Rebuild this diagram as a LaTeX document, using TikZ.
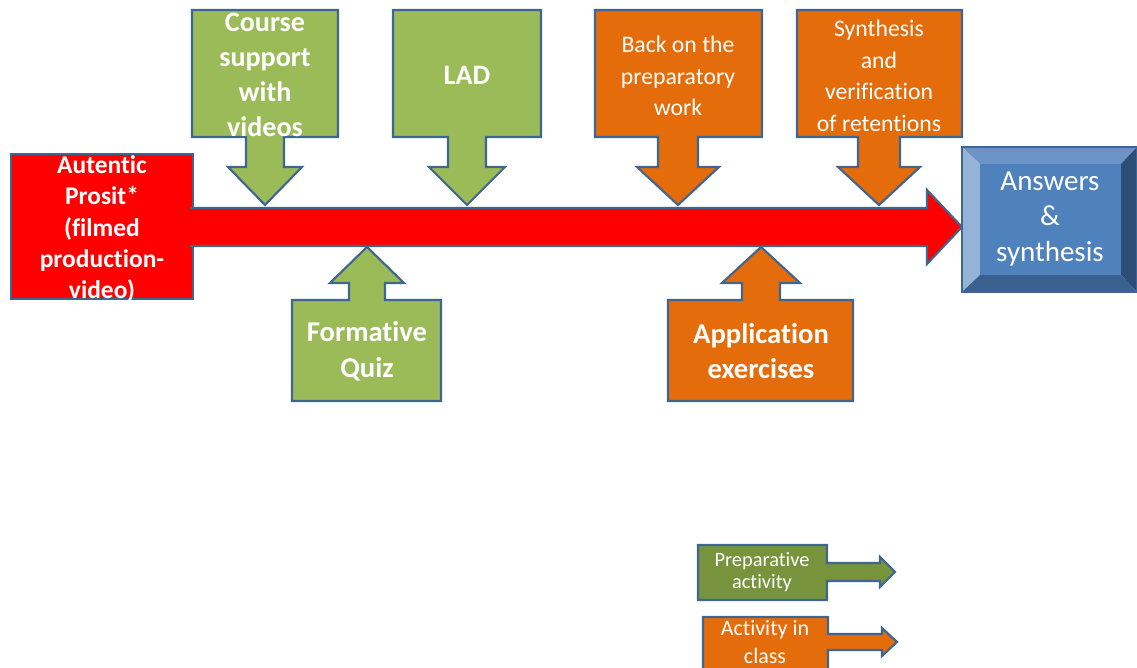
\documentclass[tikz,border=0pt]{standalone}
\usepackage{fontspec}
\setmainfont{Carlito}[Ligatures=NoCommon]
\usetikzlibrary{positioning}
\definecolor{barred}{HTML}{FF0000}
\definecolor{prepgreen}{HTML}{9BBB59}
\definecolor{legendgreen}{HTML}{77933C}
\definecolor{classorange}{HTML}{E46C0A}
\definecolor{edgeblue}{HTML}{3F6591}
\definecolor{faceblue}{HTML}{4F81BD}
\definecolor{bevtop}{HTML}{6B93C6}
\definecolor{bevleft}{HTML}{95B3D7}
\definecolor{bevright}{HTML}{2C4D75}
\definecolor{bevbottom}{HTML}{3A6090}
\tikzset{
    shapeline/.style={draw=edgeblue, line width=1.2pt, line join=miter},
    boxtext/.style={text=white, align=center, inner sep=0pt},
    bigtext/.style={boxtext, font=\bfseries\fontsize{16}{20}\selectfont},
    smalltext/.style={boxtext, font=\fontsize{13.5}{17.9}\selectfont},
    legendtext/.style={boxtext, font=\fontsize{11.6}{12.5}\selectfont}
}

\begin{document}
\begin{tikzpicture}[x=0.02cm, y=-0.02cm]
        \useasboundingbox (0,0) rectangle (1137,668);

        % Starting box and main arrow.
        \draw[shapeline, fill=barred] (11,154) rectangle (193,299);
        \draw[shapeline, fill=barred] (190,208) -- (927,208) -- (927,190) -- (962,227)
            -- (927,264) -- (927,246) -- (190,246);

        % Callouts pointing down on the arrow.
        \foreach \L/\R/\cx/\sw/\hw/\col in {192/338/265/19/37/prepgreen,
                393/541/467/19/38/prepgreen, 595/762/678/20/41/classorange,
                797/962/879/21/41/classorange}
            \draw[shapeline, fill=\col] (\L,10) -- (\R,10) -- (\R,137) -- ({\cx+\sw},137)
                -- ({\cx+\sw},167) -- ({\cx+\hw},167) -- (\cx,205) -- ({\cx-\hw},167)
                -- ({\cx-\sw},167) -- ({\cx-\sw},137) -- (\L,137) -- cycle;

        % Callouts pointing up on the arrow.
        \foreach \L/\R/\cx/\sw/\hw/\col in {292/441/367/18/37/prepgreen,
                668/853/761/19/39/classorange}
            \draw[shapeline, fill=\col] (\L,401) -- (\R,401) -- (\R,300) -- ({\cx+\sw},300)
                -- ({\cx+\sw},283) -- ({\cx+\hw},283) -- (\cx,247) -- ({\cx-\hw},283)
                -- ({\cx-\sw},283) -- ({\cx-\sw},300) -- (\L,300) -- cycle;

        % Bevelled end box.
        \fill[bevtop] (962,147) -- (1137,147) -- (1121,164) -- (980,164) -- cycle;
        \fill[bevleft] (962,147) -- (980,164) -- (980,275) -- (962,292) -- cycle;
        \fill[bevright] (1137,147) -- (1137,292) -- (1121,275) -- (1121,164) -- cycle;
        \fill[bevbottom] (962,292) -- (980,275) -- (1121,275) -- (1137,292) -- cycle;
        \fill[faceblue] (980,164) rectangle (1121,275);
        \draw[shapeline] (962,147) rectangle (1137,292);

        % Legend.
        \draw[shapeline, fill=legendgreen] (698,545) -- (827,545) -- (827,563) -- (880,563)
            -- (880,557) -- (895,572) -- (880,587) -- (880,581) -- (827,581) -- (827,600)
            -- (698,600) -- cycle;
        \draw[shapeline, fill=classorange] (703,690) -- (703,617) -- (828,617) -- (828,634)
            -- (882,634) -- (882,628) -- (897,642) -- (882,656) -- (882,650) -- (828,650)
            -- (828,690);

        % Texts.
        \node[boxtext, font=\bfseries\fontsize{14.5}{17.9}\selectfont] (autentic) at (102,229)
            {Autentic\\Prosit*\\(filmed\\production-\\video)};
        \node[bigtext] (course) at (265,75) {Course\\support\\with\\videos};
        \node[bigtext] (lad) at (467,75) {LAD};
        \node[smalltext] (backon) at (678,76) {Back on the\\preparatory\\work};
        \node[smalltext] (synth) at (879,76) {Synthesis\\and\\verification\\of retentions};
        \node[bigtext, font=\bfseries\fontsize{16.3}{20.4}\selectfont] (quiz) at (367,351)
            {Formative\\Quiz};
        \node[bigtext, font=\bfseries\fontsize{16.3}{20.4}\selectfont] (exercises) at (761,351)
            {Application\\exercises};
        \node[boxtext, font=\fontsize{16.5}{20.1}\selectfont] (answers) at (1050,219)
            {Answers\\\&\\synthesis};
        \node[legendtext] (prep) at (762,572) {Preparative\\activity};
        \node[boxtext, font=\fontsize{12.5}{15.9}\selectfont] (inclass) at (765,642)
            {Activity in\\class};
\end{tikzpicture}
\end{document}
